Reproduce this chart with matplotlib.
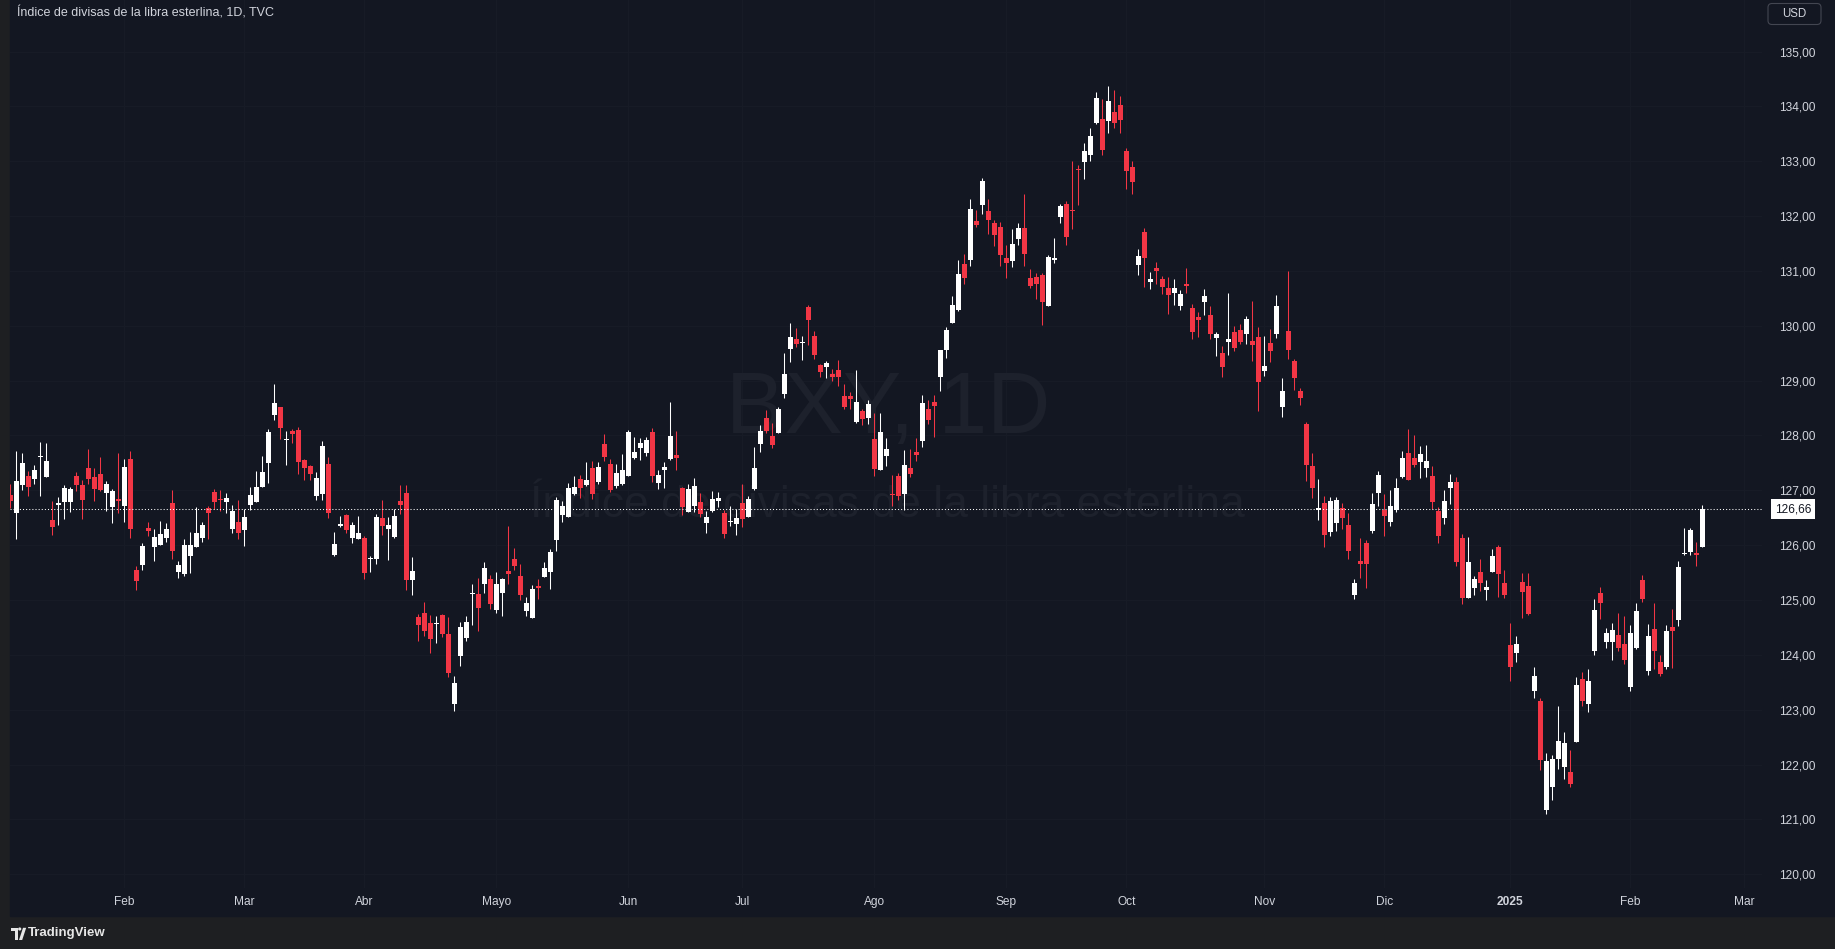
import matplotlib
matplotlib.use("Agg")
import matplotlib.pyplot as plt
from matplotlib.patches import Rectangle, FancyBboxPatch, Circle, Polygon
import numpy as np
import pandas as pd

# BXY daily candles, 2024-01-04 .. 2025-02-20
opens = [126.92, 126.59, 127.09, 127.26, 127.20, 127.61, 127.25, 126.46, 126.74, 126.79,
         126.78, 127.26, 127.10, 127.41, 127.24, 127.30, 126.96, 126.70, 126.84, 126.72,
         127.57, 125.55, 125.63, 126.31, 125.96, 126.01, 126.14, 126.77, 125.52, 125.48,
         125.81, 125.97, 126.14, 126.68, 126.97, 126.84, 126.79, 126.30, 126.42, 126.27,
         126.74, 126.79, 127.07, 127.49, 128.38, 128.52, 127.91, 128.08, 128.10, 127.55,
         127.45, 126.90, 126.94, 127.48, 125.82, 126.35, 126.55, 126.13, 126.11, 126.13,
         125.74, 125.75, 126.50, 126.30, 126.15, 126.81, 126.95, 125.37, 124.69, 124.76,
         124.58, 124.57, 124.73, 124.38, 123.11, 123.98, 124.31, 125.11, 125.11, 125.29,
         125.38, 124.82, 125.13, 125.53, 125.75, 125.44, 124.80, 124.67, 125.26, 125.42,
         125.51, 126.10, 126.55, 126.51, 126.93, 127.21, 127.10, 127.41, 127.15, 127.85,
         127.48, 127.08, 127.12, 127.26, 127.59, 127.77, 127.68, 128.06, 127.13, 127.37,
         127.57, 127.65, 127.04, 126.61, 126.72, 126.79, 126.41, 126.62, 126.81, 126.59,
         126.42, 126.39, 126.77, 126.51, 127.03, 127.85, 128.32, 127.99, 128.05, 128.76,
         129.58, 129.76, 129.69, 130.34, 129.81, 129.29, 129.25, 129.12, 129.19, 128.72,
         128.72, 128.25, 128.45, 128.32, 127.94, 127.37, 127.63, 126.93, 127.26, 126.93,
         127.41, 127.70, 127.90, 128.48, 128.61, 129.07, 129.56, 130.05, 130.29, 131.13,
         131.20, 131.91, 132.20, 132.09, 131.87, 131.80, 131.24, 131.18, 131.58, 131.78,
         130.87, 130.89, 130.93, 130.36, 131.20, 131.98, 132.22, 132.11, 132.86, 132.99,
         133.11, 133.70, 133.77, 133.73, 133.90, 134.03, 133.19, 132.90, 131.11, 131.71,
         130.80, 131.05, 130.85, 130.69, 130.60, 130.36, 130.76, 130.32, 130.16, 130.43,
         130.20, 129.78, 129.50, 129.71, 129.89, 129.92, 129.85, 129.72, 129.80, 129.18,
         129.69, 129.85, 128.52, 129.90, 129.35, 128.81, 128.21, 127.44, 126.64, 126.77,
         126.24, 126.41, 126.68, 126.37, 125.09, 125.71, 126.04, 126.26, 126.95, 126.64,
         126.42, 126.64, 127.24, 127.68, 127.59, 127.52, 127.41, 127.26, 126.62, 126.50,
         127.04, 127.15, 126.13, 125.04, 125.22, 125.51, 125.18, 125.51, 125.97, 125.31,
         124.18, 124.04, 125.33, 125.26, 123.34, 123.16, 121.17, 121.59, 122.10, 121.96,
         121.87, 122.41, 123.56, 123.11, 124.07, 125.13, 124.24, 124.24, 124.36, 124.20,
         123.42, 124.13, 125.37, 123.71, 124.47, 123.87, 123.78, 124.51, 124.64, 125.84,
         125.88, 125.86, 125.97]
highs = [127.12, 127.72, 127.68, 127.35, 127.46, 127.88, 127.86, 126.81, 126.88, 127.10,
         127.06, 127.34, 127.19, 127.75, 127.41, 127.61, 127.17, 127.03, 127.68, 127.57,
         127.72, 125.62, 126.04, 126.42, 126.30, 126.44, 126.41, 127.01, 125.71, 126.11,
         126.24, 126.70, 126.42, 126.72, 127.03, 127.01, 126.95, 126.73, 126.82, 126.66,
         127.06, 127.35, 127.63, 128.12, 128.94, 128.52, 128.08, 128.12, 128.16, 127.57,
         127.47, 127.34, 127.90, 127.60, 126.24, 126.53, 126.57, 126.42, 126.53, 126.17,
         125.80, 126.57, 126.82, 126.51, 126.66, 127.10, 127.10, 125.79, 124.75, 124.97,
         124.73, 124.71, 124.75, 124.69, 123.62, 124.60, 124.71, 125.29, 125.40, 125.69,
         125.46, 125.51, 125.40, 126.35, 125.95, 125.66, 125.06, 125.27, 125.38, 125.69,
         125.93, 126.88, 126.81, 127.13, 127.26, 127.28, 127.52, 127.54, 127.52, 128.03,
         127.57, 127.48, 127.66, 128.10, 127.97, 127.95, 127.97, 128.14, 127.37, 127.52,
         128.61, 128.08, 127.06, 127.12, 127.23, 126.95, 126.62, 126.99, 126.97, 126.64,
         126.72, 126.66, 127.12, 126.90, 127.79, 128.19, 128.47, 128.23, 128.52, 129.50,
         130.05, 129.96, 129.81, 130.38, 129.91, 129.30, 129.36, 129.21, 129.38, 128.94,
         128.79, 129.19, 128.48, 128.65, 128.41, 128.41, 127.95, 127.28, 127.32, 127.74,
         127.75, 127.95, 128.74, 128.65, 128.74, 129.56, 129.98, 130.54, 131.20, 131.31,
         132.31, 132.11, 132.69, 132.31, 131.93, 131.89, 131.47, 131.77, 131.87, 132.40,
         131.04, 130.96, 130.96, 131.29, 131.60, 132.22, 132.28, 133.00, 132.93, 133.33,
         133.61, 134.26, 134.14, 134.37, 134.30, 134.19, 133.25, 133.00, 131.40, 131.78,
         130.98, 131.16, 130.91, 130.89, 130.85, 130.65, 131.05, 130.40, 130.25, 130.67,
         130.36, 129.89, 129.63, 130.60, 130.00, 130.03, 130.18, 130.45, 129.98, 129.81,
         129.94, 130.56, 129.05, 131.00, 129.40, 128.87, 128.25, 127.68, 127.21, 126.90,
         126.88, 126.88, 126.77, 126.59, 125.38, 126.13, 126.10, 126.95, 127.35, 126.93,
         127.01, 127.23, 127.72, 128.12, 128.01, 127.81, 127.83, 127.44, 126.70, 127.01,
         127.30, 127.24, 126.20, 126.15, 125.44, 125.75, 125.37, 125.93, 126.00, 125.55,
         124.58, 124.35, 125.49, 125.49, 123.78, 123.21, 122.21, 122.18, 123.07, 122.59,
         122.27, 123.60, 123.69, 123.74, 125.02, 125.24, 124.49, 124.58, 124.76, 124.71,
         124.55, 124.95, 125.46, 124.56, 124.95, 124.00, 124.55, 124.84, 125.71, 126.31,
         126.31, 126.06, 126.73]
lows = [126.67, 126.12, 127.01, 126.90, 127.12, 126.90, 127.24, 126.19, 126.37, 126.47,
        126.61, 126.98, 126.48, 127.12, 126.81, 126.98, 126.63, 126.41, 126.58, 126.43,
        126.14, 125.19, 125.55, 126.16, 125.72, 126.00, 126.05, 125.74, 125.41, 125.43,
        125.50, 125.97, 126.05, 126.12, 126.66, 126.63, 126.59, 126.23, 126.12, 125.99,
        126.65, 126.79, 127.07, 127.14, 128.29, 127.94, 127.47, 127.87, 127.30, 127.18,
        127.18, 126.83, 126.83, 126.50, 125.80, 126.33, 126.22, 126.04, 126.11, 125.38,
        125.51, 125.66, 126.19, 125.73, 126.13, 126.57, 125.18, 125.09, 124.25, 124.35,
        124.04, 124.22, 124.33, 123.60, 122.98, 123.80, 124.25, 124.55, 124.44, 125.13,
        124.84, 124.76, 124.71, 125.29, 125.55, 125.00, 124.71, 124.67, 125.02, 125.42,
        125.20, 125.89, 126.42, 126.51, 126.92, 126.86, 127.08, 126.84, 127.12, 127.54,
        126.97, 127.04, 127.10, 127.26, 127.57, 127.55, 127.63, 127.15, 127.03, 127.04,
        127.55, 127.37, 126.55, 126.61, 126.61, 126.51, 126.22, 126.61, 126.70, 126.13,
        126.35, 126.19, 126.33, 126.51, 127.01, 127.70, 128.05, 127.77, 128.05, 128.68,
        129.34, 129.61, 129.38, 129.65, 129.40, 129.07, 129.05, 128.99, 128.90, 128.48,
        128.48, 128.23, 128.19, 128.21, 127.26, 127.37, 127.44, 126.72, 126.82, 126.64,
        127.24, 127.54, 127.79, 128.21, 127.97, 128.81, 129.41, 130.05, 130.27, 130.76,
        131.09, 131.80, 132.04, 131.67, 131.46, 131.09, 130.87, 131.07, 131.47, 131.09,
        130.69, 130.49, 130.01, 130.36, 131.15, 131.87, 131.47, 131.77, 132.20, 132.68,
        133.00, 133.68, 133.11, 133.52, 133.61, 133.52, 132.50, 132.40, 130.93, 130.71,
        130.67, 130.76, 130.58, 130.22, 130.38, 130.29, 130.60, 129.76, 129.80, 130.20,
        129.76, 129.45, 129.07, 129.47, 129.54, 129.67, 129.67, 129.36, 128.45, 129.09,
        129.34, 129.78, 128.34, 129.40, 128.83, 128.56, 127.17, 126.86, 126.46, 125.97,
        126.17, 126.26, 126.30, 125.75, 125.02, 125.40, 125.22, 126.22, 126.72, 126.17,
        126.35, 126.61, 127.23, 127.19, 127.43, 127.23, 127.24, 126.66, 126.04, 126.39,
        126.75, 125.62, 124.93, 125.04, 125.09, 125.17, 125.00, 125.51, 125.06, 125.04,
        123.52, 123.87, 124.67, 124.73, 123.21, 121.90, 121.10, 121.36, 121.92, 121.74,
        121.59, 122.41, 123.07, 122.95, 124.00, 124.66, 124.13, 123.91, 124.07, 123.83,
        123.34, 124.11, 124.97, 123.63, 123.74, 123.62, 123.74, 123.76, 124.53, 125.82,
        125.82, 125.62, 125.97]
closes = [126.81, 127.17, 127.50, 127.07, 127.37, 127.63, 127.54, 126.34, 126.77, 127.04,
          127.03, 127.09, 126.83, 127.21, 127.03, 127.01, 127.12, 126.99, 126.81, 127.43,
          126.30, 125.34, 125.99, 126.25, 126.15, 126.20, 126.30, 125.90, 125.64, 126.00,
          126.00, 126.22, 126.37, 126.58, 126.79, 126.82, 126.86, 126.62, 126.23, 126.51,
          126.92, 127.06, 127.34, 128.06, 128.59, 128.13, 127.94, 128.02, 127.52, 127.40,
          127.29, 127.23, 127.80, 126.59, 126.02, 126.39, 126.28, 126.37, 126.22, 125.49,
          125.76, 126.51, 126.35, 126.37, 126.53, 126.73, 125.37, 125.53, 124.55, 124.44,
          124.29, 124.59, 124.38, 123.67, 123.49, 124.51, 124.60, 125.13, 124.86, 125.58,
          124.93, 125.29, 125.38, 125.48, 125.62, 125.09, 124.95, 125.20, 125.22, 125.58,
          125.88, 126.82, 126.72, 127.04, 127.06, 127.04, 127.19, 126.93, 127.43, 127.61,
          127.01, 127.32, 127.37, 128.06, 127.70, 127.86, 127.92, 127.26, 127.28, 127.43,
          127.99, 127.59, 126.70, 127.03, 127.08, 126.57, 126.51, 126.84, 126.86, 126.20,
          126.44, 126.50, 126.48, 126.84, 127.41, 128.08, 128.08, 127.83, 128.48, 129.12,
          129.80, 129.67, 129.71, 130.11, 129.47, 129.16, 129.32, 129.07, 129.07, 128.52,
          128.67, 128.61, 128.30, 128.57, 127.39, 128.06, 127.75, 126.92, 126.90, 127.46,
          127.30, 127.65, 128.59, 128.28, 128.54, 129.56, 129.92, 130.38, 130.94, 130.87,
          132.13, 131.84, 132.64, 131.93, 131.66, 131.29, 131.15, 131.49, 131.78, 131.31,
          130.73, 130.76, 130.43, 131.25, 131.24, 132.18, 131.62, 132.09, 132.84, 133.19,
          133.46, 134.15, 133.21, 134.10, 133.70, 133.75, 132.82, 132.62, 131.27, 131.24,
          130.85, 131.00, 130.71, 130.56, 130.69, 130.58, 130.73, 129.89, 130.11, 130.54,
          129.85, 129.85, 129.25, 129.76, 129.60, 129.71, 130.12, 129.65, 128.98, 129.27,
          129.54, 130.36, 128.81, 129.55, 129.05, 128.68, 127.46, 127.04, 126.68, 126.19,
          126.81, 126.82, 126.50, 125.89, 125.31, 125.66, 125.66, 126.75, 127.28, 126.53,
          126.72, 127.04, 127.59, 127.19, 127.46, 127.66, 127.54, 126.79, 126.17, 126.81,
          127.15, 125.69, 125.04, 125.69, 125.38, 125.31, 125.24, 125.80, 125.48, 125.09,
          123.78, 124.20, 125.15, 124.75, 123.62, 122.08, 122.07, 122.10, 122.43, 122.39,
          121.65, 123.45, 123.16, 123.52, 124.82, 124.95, 124.40, 124.45, 124.13, 123.91,
          124.40, 124.80, 125.02, 124.35, 124.07, 123.65, 124.44, 124.44, 125.60, 125.86,
          126.28, 125.82, 126.66]

# days with no candle (US holidays)
holidays = ["2024-01-15", "2024-02-19", "2024-03-29", "2024-05-27", "2024-06-19",
            "2024-07-04", "2024-09-02", "2024-11-28", "2024-12-25", "2025-01-01",
            "2025-01-09", "2025-01-20", "2025-02-17"]
month_labels = ["Feb", "Mar", "Abr", "Mayo", "Jun", "Jul", "Ago", "Sep", "Oct",
                "Nov", "Dic", "2025", "Feb", "Mar"]
price_ticks = list(range(120, 136))
last_price = 126.66
title = "Índice de divisas de la libra esterlina, 1D, TVC"
symbol = "BXY, 1D"
description = "Índice de divisas de la libra esterlina"

W, H = 1835, 949
BG = "#131722"
FRAME = "#1e1f22"
GRID = "#171b26"
TXT = "#d1d4dc"
UP = "#ffffff"
DOWN = "#f23645"
plt.rcParams["font.family"] = ["Liberation Sans", "DejaVu Sans"]

cal = pd.bdate_range("2024-01-04", "2025-03-07")
cal = cal[~cal.isin(pd.to_datetime(holidays))]
n = len(closes)
dates = cal[:n]
mkey = cal.year * 12 + cal.month
month_idx = [i for i in range(1, len(cal)) if mkey[i] != mkey[i - 1]]

fig = plt.figure(figsize=(W / 100, H / 100), dpi=100)
fig.patch.set_facecolor(FRAME)
fig.patches.append(Rectangle((10 / W, 33 / H), 1, 1, transform=fig.transFigure,
                             color=BG, zorder=-5))

ax = fig.add_axes([10 / W, (H - 888) / H, (1762 - 10) / W, 888 / H])
ax.set_facecolor(BG)
ax.set_xlim(-0.05, 291.95)
ax.set_ylim(119.75, 135.94)
for s in ax.spines.values():
    s.set_visible(False)

for p in price_ticks:
    ax.axhline(p, color=GRID, lw=0.8, zorder=0)
for m in month_idx:
    ax.axvline(m, color=GRID, lw=0.8, zorder=0)

# watermark, under the candles
ax.text(888 / W, 1 - 433 / H, symbol, ha="center", va="baseline", transform=fig.transFigure,
        fontsize=63, color="#1d212c", zorder=1)
ax.text(887 / W, 1 - 517 / H, description, ha="center", va="baseline",
        transform=fig.transFigure, fontsize=32, color="#1d212c", zorder=1)

o = np.array(opens); h = np.array(highs); l = np.array(lows); c = np.array(closes)
x = np.arange(n)
cols = np.where(c >= o, UP, DOWN)
ax.vlines(x, l, h, colors=cols, lw=0.75, zorder=3)
body = np.maximum(np.abs(c - o), 0.02)
ax.bar(x, body, bottom=np.minimum(o, c), width=0.82, color=cols, lw=0, zorder=4)

ax.axhline(last_price, color="white", lw=0.75, ls=(0, (1, 2)), zorder=5)

ax.yaxis.tick_right()
ax.set_yticks(price_ticks)
ax.set_yticklabels([f"{p:.2f}".replace(".", ",") for p in price_ticks])
ax.tick_params(axis="y", length=0, pad=12, labelsize=8.6, labelcolor=TXT)
ax.set_xticks(month_idx)
ax.set_xticklabels(month_labels)
ax.tick_params(axis="x", length=0, pad=6, labelsize=8.6, labelcolor=TXT)
for t in ax.get_xticklabels():
    if t.get_text() == "2025":
        t.set_fontweight("bold")

fig.text(1793 / W, 1 - 509 / H, f"{last_price:.2f}".replace(".", ","), ha="center",
         va="center", fontsize=8.6, color="#131722",
         bbox=dict(boxstyle="square,pad=0.3", fc="white", ec="none"))

fig.text(17 / W, 1 - 13 / H, title, ha="left", va="center", fontsize=9, color=TXT)

# currency box, drawn in inches so the corners stay round
fig.patches.append(FancyBboxPatch((17.68, 9.245), 0.53, 0.21,
                                  boxstyle="round,pad=0,rounding_size=0.04",
                                  transform=fig.dpi_scale_trans, fc=BG, ec="#434651",
                                  lw=0.8, zorder=6))
fig.text(1794.5 / W, 1 - 14 / H, "USD", ha="center", va="center", fontsize=8.3,
         color=TXT, zorder=7)

# TradingView mark in the footer
logo = "#e6e6e6"
fig.patches.append(Polygon([(0.11, 0.212), (0.18, 0.212), (0.18, 0.09), (0.15, 0.09),
                            (0.15, 0.185), (0.11, 0.185)], closed=True,
                           transform=fig.dpi_scale_trans, fc=logo, ec="none", zorder=6))
fig.patches.append(Circle((0.197, 0.2), 0.016, transform=fig.dpi_scale_trans,
                          fc=logo, ec="none", zorder=6))
fig.patches.append(Polygon([(0.19, 0.09), (0.222, 0.09), (0.262, 0.212), (0.230, 0.212)],
                           closed=True, transform=fig.dpi_scale_trans, fc=logo,
                           ec="none", zorder=6))
fig.text(28 / W, 1 - 933 / H, "TradingView", ha="left", va="center", fontsize=9.5,
         fontweight="bold", color=logo)

fig.savefig("out.png", dpi=100, facecolor=FRAME)
